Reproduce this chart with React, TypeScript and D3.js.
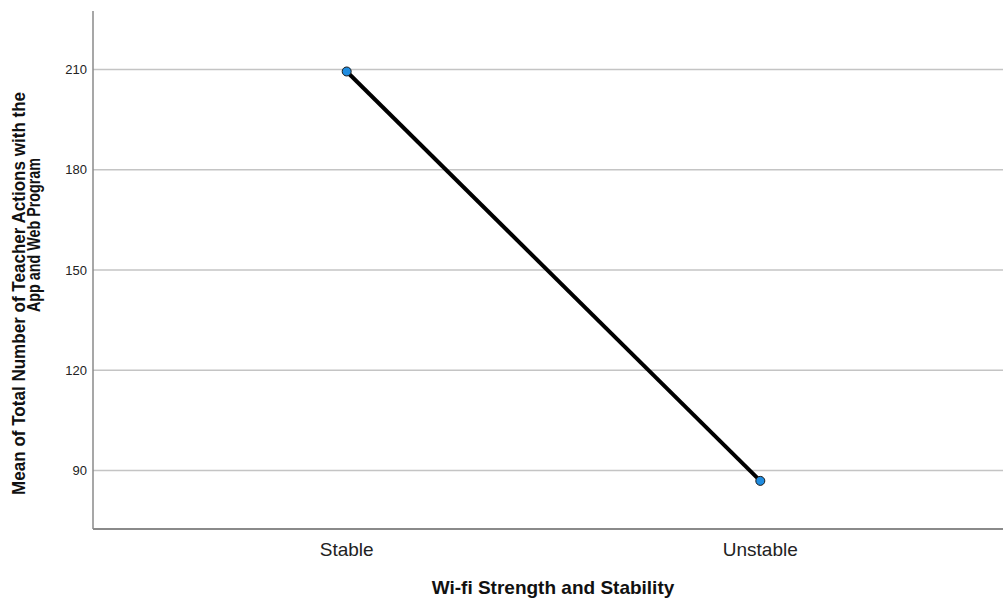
import React from "react";
import * as d3 from "d3";

const categories = ["Stable", "Unstable"];
const means = [209.4, 86.9];
const yTicks = [90, 120, 150, 180, 210];
const xTitle = "Wi-fi Strength and Stability";
const yTitleLines = ["Mean of Total Number of Teacher Actions with the", "App and Web Program"];

const W = 1003;
const H = 600;
const plotLeft = 93;
const plotRight = 1003;
const plotTop = 11;
const plotBottom = 529;

export default function App() {
  const y = d3.scaleLinear().domain([72.5, 227.5]).range([plotBottom, plotTop]);
  const x = d3.scalePoint<string>().domain(categories).range([346.7, 760.3]);
  const data = categories.map((c, i) => ({ c, v: means[i] }));
  const line = d3
    .line<{ c: string; v: number }>()
    .x((d) => x(d.c) as number)
    .y((d) => y(d.v));

  return (
    <svg
      width={W}
      height={H}
      style={{ position: "absolute", left: 0, top: 0, background: "#fff" }}
      fontFamily="'Liberation Sans', Arial, sans-serif"
    >
      <rect x={0} y={0} width={W} height={H} fill="#fff" />
      {yTicks.map((t) => (
        <g key={t}>
          <line x1={plotLeft} x2={plotRight} y1={y(t)} y2={y(t)} stroke="#c4c4c4" strokeWidth={1.5} />
          <text x={87} y={y(t)} dy="0.35em" textAnchor="end" fontSize={13} fill="#222">
            {t}
          </text>
        </g>
      ))}
      <line x1={plotLeft} x2={plotLeft} y1={plotTop} y2={plotBottom} stroke="#8a8a8a" strokeWidth={1.5} />
      <line x1={plotLeft} x2={plotRight} y1={plotBottom} y2={plotBottom} stroke="#8a8a8a" strokeWidth={2} />
      {categories.map((c) => (
        <text key={c} x={x(c)} y={556} textAnchor="middle" fontSize={19} fill="#222">
          {c}
        </text>
      ))}
      <text x={553} y={594} textAnchor="middle" fontSize={19} fontWeight="bold" fill="#111">
        {xTitle}
      </text>
      <text
        transform={`translate(25,293.4) rotate(-90)`}
        textAnchor="middle"
        fontSize={18}
        fontWeight="bold"
        fill="#111"
        textLength={403}
        lengthAdjust="spacingAndGlyphs"
      >
        {yTitleLines[0]}
      </text>
      <text
        transform={`translate(40,235) rotate(-90)`}
        textAnchor="middle"
        fontSize={18}
        fontWeight="bold"
        fill="#111"
        textLength={154}
        lengthAdjust="spacingAndGlyphs"
      >
        {yTitleLines[1]}
      </text>
      <path d={line(data) || ""} fill="none" stroke="#000" strokeWidth={4} />
      {data.map((d) => (
        <circle key={d.c} cx={x(d.c)} cy={y(d.v)} r={4.5} fill="#1f8ce0" stroke="#1a1a1a" strokeWidth={1} />
      ))}
    </svg>
  );
}
